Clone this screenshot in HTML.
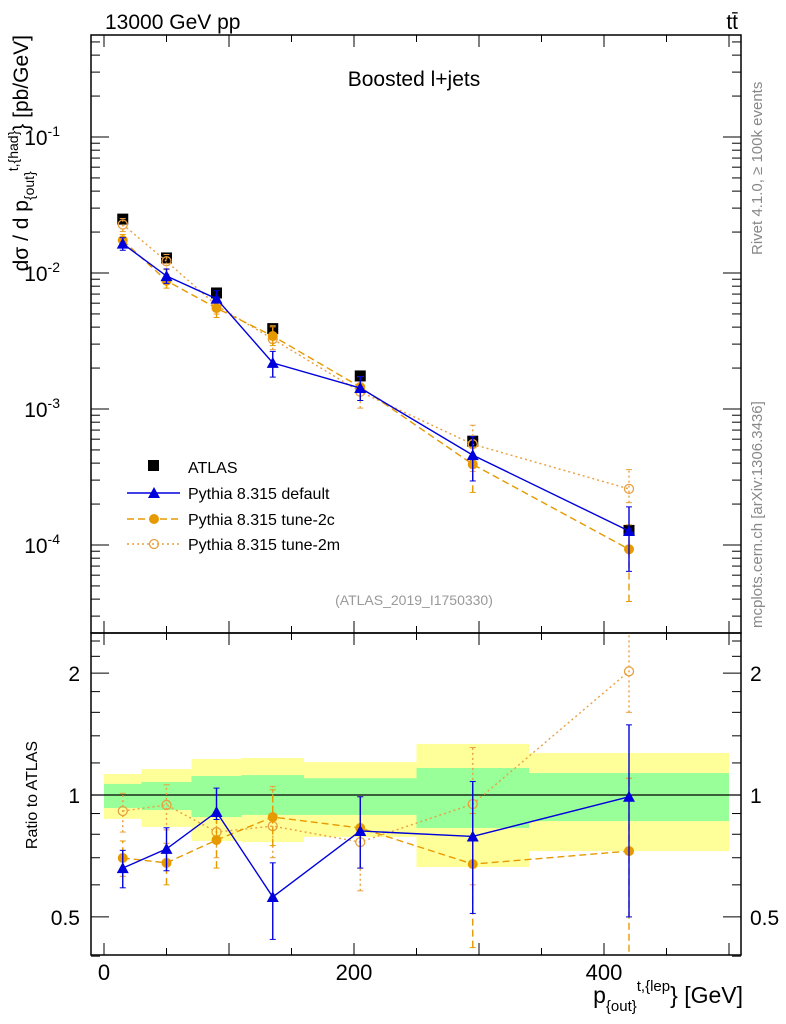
<!DOCTYPE html>
<html><head><meta charset="utf-8"><style>
body{margin:0;background:#fff}
svg{display:block;font-family:"Liberation Sans",sans-serif}
</style></head><body>
<svg id="c" width="786" height="1024" viewBox="0 0 786 1024"></svg>
<script>
const xCenters=[15,50,90,135,205,295,420];
const binEdges=[0,30,70,110,160,250,340,500];
const atlas=[0.0249,0.0129,0.00713,0.0039,0.00175,0.00058,0.000128];
const rDefault=[0.66,0.736,0.908,0.56,0.815,0.79,0.99];
const rDefLo=[0.59,0.65,0.87,0.44,0.66,0.51,0.50];
const rDefHi=[0.73,0.83,1.04,0.68,0.99,1.08,1.49];
const r2c=[0.699,0.68,0.774,0.882,0.829,0.675,0.727];
const r2cLo=[0.63,0.60,0.66,0.75,0.66,0.42,0.30];
const r2cHi=[0.77,0.76,0.90,1.03,0.99,0.90,1.10];
const r2m=[0.913,0.945,0.81,0.838,0.765,0.95,2.02];
const r2mLo=[0.81,0.82,0.70,0.70,0.58,0.60,1.60];
const r2mHi=[1.01,1.06,0.90,1.05,0.99,1.31,2.80];
const bandYLo=[0.873,0.834,0.770,0.765,0.788,0.664,0.727];
const bandYHi=[1.127,1.159,1.227,1.234,1.206,1.337,1.27];
const bandGLo=[0.929,0.918,0.882,0.893,0.893,0.829,0.862];
const bandGHi=[1.065,1.077,1.114,1.12,1.10,1.166,1.133];

const L=91,R=741,T1=35,B1=633,T2=633,B2=955;
const X=v=>104+v*1.25;
const Y1=v=>137-(Math.log10(v)+1)*136;
const Y2=v=>795-Math.log10(v)*405;
const svg=document.getElementById('c');
const NS='http://www.w3.org/2000/svg';
function mk(tag,attrs,parent,text){const e=document.createElementNS(NS,tag);for(const k in attrs)e.setAttribute(k,attrs[k]);if(text!==undefined)e.textContent=text;(parent||svg).appendChild(e);return e;}
const clip=mk('clipPath',{id:'cp1'});mk('rect',{x:L,y:T1,width:R-L,height:B1-T1},clip);
const clip2=mk('clipPath',{id:'cp2'});mk('rect',{x:L,y:T2,width:R-L,height:B2-T2},clip2);

const gb=mk('g',{'clip-path':'url(#cp2)'});


for(let i=0;i<7;i++){
 const x0=X(binEdges[i]),x1=X(binEdges[i+1]);
 const r1=mk('rect',{x:x0,y:Y2(bandYHi[i]),width:x1-x0,height:Y2(bandYLo[i])-Y2(bandYHi[i]),fill:'#ffff99'},gb);
 
 
 const r2=mk('rect',{x:x0,y:Y2(bandGHi[i]),width:x1-x0,height:Y2(bandGLo[i])-Y2(bandGHi[i]),fill:'#99ff99'},gb);
 
 
}
mk('line',{x1:L,x2:R,y1:Y2(1),y2:Y2(1),stroke:'#000','stroke-width':1.3});

mk('rect',{x:L,y:T1,width:R-L,height:B1-T1,fill:'none',stroke:'#000','stroke-width':1.5});
mk('rect',{x:L,y:T2,width:R-L,height:B2-T2,fill:'none',stroke:'#000','stroke-width':1.5});

for(let v=0;v<=500;v+=50){const x=X(v);const big=v%100==0?12:7;
 for(const [t,b] of [[T1,B1],[T2,B2]]){mk('line',{x1:x,x2:x,y1:b,y2:b-big,stroke:'#000'});mk('line',{x1:x,x2:x,y1:t,y2:t+big,stroke:'#000'});}
}
for(const v of [0,200,400]){const t=mk('text',{x:X(v),y:980,'font-size':22,'text-anchor':'middle'},svg,String(v));}

for(let e=-5;e<=0;e++){for(let m=1;m<10;m++){const v=m*Math.pow(10,e);const y=Y1(v);if(y<T1||y>B1)continue;const len=m==1?18:9;
 mk('line',{x1:L,x2:L+len,y1:y,y2:y,stroke:'#000'});mk('line',{x1:R,x2:R-len,y1:y,y2:y,stroke:'#000'});}}
for(const e of [-1,-2,-3,-4]){const t=mk('text',{x:60,y:Y1(Math.pow(10,e))+8,'font-size':21,'text-anchor':'end'},svg);
 t.appendChild(document.createTextNode('10'));mk('tspan',{dy:-9,'font-size':14},t,String(e));}
for(const v of [0.4,0.5,0.6,0.7,0.8,0.9,1,1.2,1.4,1.6,1.8,2,2.2,2.4]){const y=Y2(v);const len=(v==0.5||v==1||v==2)?18:9;
 mk('line',{x1:L,x2:L+len,y1:y,y2:y,stroke:'#000'});mk('line',{x1:R,x2:R-len,y1:y,y2:y,stroke:'#000'});}
for(const [v,s] of [[0.5,'0.5'],[1,'1'],[2,'2']]){mk('text',{x:80,y:Y2(v)+8,'font-size':21,'text-anchor':'end'},svg,s);mk('text',{x:750,y:Y2(v)+8,'font-size':21},svg,s);}

function series(name,color,vals,lo,hi,dash,marker){
 const g=mk('g',{'clip-path':'url(#cp1)'});
 const g2=mk('g',{'clip-path':'url(#cp2)'});
 for(const [gg,Y,scale] of [[g,Y1,true],[g2,Y2,false]]){
  const f=i=>scale?atlas[i]:1;
  const pts=vals.map((v,i)=>X(xCenters[i])+','+Y(v*f(i))).join(' ');
  mk('polyline',{points:pts,fill:'none',stroke:color,'stroke-width':1.4,'stroke-dasharray':dash},gg);
  vals.forEach((v,i)=>{const x=X(xCenters[i]);const ylo=Y(lo[i]*f(i)),yhi=Y(hi[i]*f(i));
   mk('line',{x1:x,x2:x,y1:ylo,y2:yhi,stroke:color,'stroke-width':1.4,'stroke-dasharray':dash},gg);
   mk('line',{x1:x-3,x2:x+3,y1:ylo,y2:ylo,stroke:color},gg);mk('line',{x1:x-3,x2:x+3,y1:yhi,y2:yhi,stroke:color},gg);
   const y=Y(v*f(i));
   if(marker=='tri')mk('path',{d:`M${x-6},${y+5}L${x+6},${y+5}L${x},${y-6}Z`,fill:color},gg);
   else if(marker=='dot')mk('circle',{cx:x,cy:y,r:5,fill:color},gg);
   else mk('circle',{cx:x,cy:y,r:4.5,fill:'none',stroke:color,'stroke-width':1.3},gg);
  });
 }
}
const ga=mk('g',{});
atlas.forEach((v,i)=>{const x=X(xCenters[i]),y=Y1(v);mk('rect',{x:x-5.5,y:y-5.5,width:11,height:11,fill:'#000'},ga);});
series('tune-2m','#e8a040',r2m,r2mLo,r2mHi,'2,3','open');
series('tune-2c','#e69a00',r2c,r2cLo,r2cHi,'7,4','dot');
series('default','#0000dd',rDefault,rDefLo,rDefHi,'','tri');

const lg=mk('g',{});
mk('rect',{x:148,y:460,width:11,height:11,fill:'#000'},lg);
mk('text',{x:188,y:473,'font-size':16},lg,'ATLAS');
const le=[[493,'#0000dd','','tri','Pythia 8.315 default'],[519,'#e69a00','7,4','dot','Pythia 8.315 tune-2c'],[544,'#e8a040','2,3','open','Pythia 8.315 tune-2m']];
for(const [y,c,d,m,t] of le){mk('line',{x1:127,x2:180,y1:y,y2:y,stroke:c,'stroke-width':1.4,'stroke-dasharray':d},lg);
 if(m=='tri')mk('path',{d:`M148,${y+5}L160,${y+5}L154,${y-6}Z`,fill:c},lg);else if(m=='dot')mk('circle',{cx:154,cy:y,r:5,fill:c},lg);else mk('circle',{cx:154,cy:y,r:4.5,fill:'none',stroke:c,'stroke-width':1.3},lg);
 mk('text',{x:188,y:y+6,'font-size':16},lg,t);}
</script>
<div style="position:absolute;left:0;top:0;width:786px;height:1024px;pointer-events:none">
<svg width="786" height="1024" style="font-family:'Liberation Sans',sans-serif">
<text x="105" y="29" font-size="21">13000 GeV pp</text>
<text x="738" y="29" font-size="21" text-anchor="end">tt̄</text>
<text x="414" y="86" font-size="21" text-anchor="middle">Boosted l+jets</text>
<text x="414" y="605" font-size="14" fill="#999" text-anchor="middle">(ATLAS_2019_I1750330)</text>
<text transform="translate(762,255) rotate(-90)" font-size="15" fill="#888">Rivet 4.1.0, ≥ 100k events</text>
<text transform="translate(762,628) rotate(-90)" font-size="15" fill="#888">mcplots.cern.ch [arXiv:1306.3436]</text>
<text transform="translate(28,35) rotate(-90)" font-size="21" text-anchor="end">dσ / d p<tspan font-size="14" dy="6">{out}</tspan><tspan font-size="14" dy="-16">t,{had}</tspan><tspan dy="10">} [pb/GeV]</tspan></text>
<text transform="translate(37,795) rotate(-90)" font-size="16" text-anchor="middle">Ratio to ATLAS</text>
<text x="743" y="1003" font-size="23" text-anchor="end">p<tspan font-size="15" dy="8">{out}</tspan><tspan font-size="15" dy="-20">t,{lep</tspan><tspan dy="12">} [GeV]</tspan></text>
</svg></div>
</body></html>
